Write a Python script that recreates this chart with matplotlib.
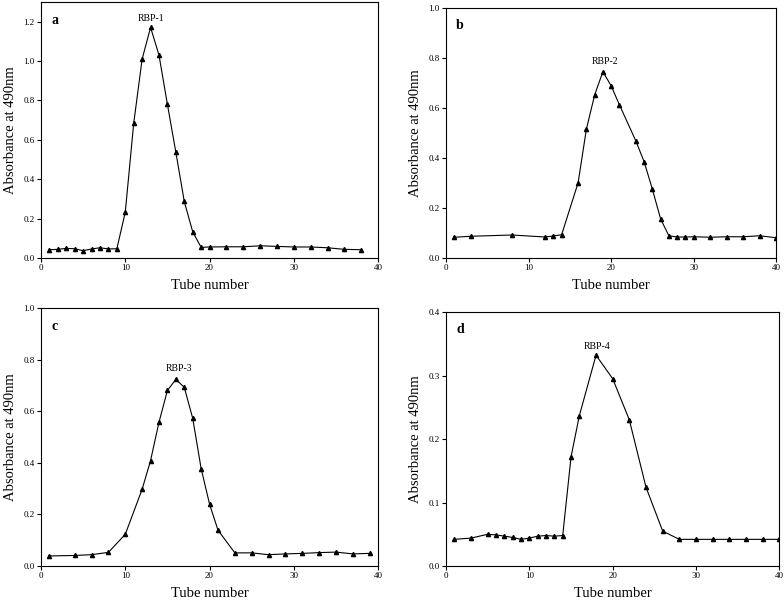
import matplotlib
matplotlib.use("Agg")
import matplotlib.pyplot as plt

plt.rcParams['font.family'] = ['Liberation Serif', 'DejaVu Serif']

# panel a - RBP-1
a_tube = [1, 2, 3, 4, 5, 6, 7, 8, 9, 10, 11, 12, 13, 14, 15, 16, 17, 18, 19,
          20, 22, 24, 26, 28, 30, 32, 34, 36, 38]
a_abs = [0.042, 0.044, 0.049, 0.047, 0.037, 0.046, 0.052, 0.046, 0.047, 0.233,
         0.684, 1.01, 1.171, 1.03, 0.78, 0.537, 0.287, 0.133, 0.054,
         0.056, 0.057, 0.057, 0.062, 0.059, 0.056, 0.056, 0.052, 0.044, 0.042]

# panel b - RBP-2
b_tube = [1, 3, 8, 12, 13, 14, 16, 17, 18, 19, 20, 21, 23, 24, 25, 26, 27, 28,
          29, 30, 32, 34, 36, 38, 40]
b_abs = [0.083, 0.087, 0.092, 0.084, 0.088, 0.093, 0.301, 0.515, 0.652, 0.745,
         0.689, 0.613, 0.468, 0.385, 0.275, 0.156, 0.089, 0.084, 0.084, 0.085,
         0.083, 0.085, 0.085, 0.089, 0.081]

# panel c - RBP-3
c_tube = [1, 4, 6, 8, 10, 12, 13, 14, 15, 16, 17, 18, 19, 20, 21, 23, 25, 27,
          29, 31, 33, 35, 37, 39]
c_abs = [0.039, 0.041, 0.044, 0.053, 0.123, 0.298, 0.409, 0.558, 0.681, 0.724,
         0.693, 0.573, 0.378, 0.240, 0.139, 0.051, 0.051, 0.044, 0.047, 0.049,
         0.052, 0.054, 0.047, 0.049]

# panel d - RBP-4
d_tube = [1, 3, 5, 6, 7, 8, 9, 10, 11, 12, 13, 14, 15, 16, 18, 20, 22, 24, 26,
          28, 30, 32, 34, 36, 38, 40]
d_abs = [0.042, 0.044, 0.050, 0.049, 0.047, 0.045, 0.042, 0.044, 0.047, 0.048,
         0.047, 0.048, 0.172, 0.237, 0.332, 0.295, 0.230, 0.124, 0.055,
         0.042, 0.042, 0.042, 0.042, 0.042, 0.042, 0.042]

panels = [
    # letter, x, y, peak label, label pos, ylim, yticks, axes rect
    ("a", a_tube, a_abs, "RBP-1", (13, 1.215), 1.3, [0, 0.2, 0.4, 0.6, 0.8, 1.0, 1.2],
     [0.0523, 0.5707, 0.430, 0.426]),
    ("b", b_tube, b_abs, "RBP-2", (19.2, 0.785), 1.0, [0, 0.2, 0.4, 0.6, 0.8, 1.0],
     [0.569, 0.5707, 0.421, 0.416]),
    ("c", c_tube, c_abs, "RBP-3", (16.4, 0.765), 1.0, [0, 0.2, 0.4, 0.6, 0.8, 1.0],
     [0.0523, 0.0582, 0.430, 0.429]),
    ("d", d_tube, d_abs, "RBP-4", (18.1, 0.346), 0.4, [0, 0.1, 0.2, 0.3, 0.4],
     [0.569, 0.0582, 0.425, 0.4226]),
]

fig = plt.figure(figsize=(7.84, 6.01), dpi=100)

for letter, x, y, lab, lpos, ymax, yt, rect in panels:
    ax = fig.add_axes(rect)
    ax.plot(x, y, color='black', lw=0.8, marker='^', markersize=3)
    ax.set_xlim(0, 40)
    ax.set_ylim(0, ymax)
    ax.set_xticks([0, 10, 20, 30, 40])
    ax.set_yticks(yt)
    ax.set_yticklabels(["%.1f" % v for v in yt])
    ax.tick_params(direction='out', length=3, width=0.8, labelsize=6.5, pad=1.5)
    for sp in ax.spines.values():
        sp.set_linewidth(0.8)
    ax.set_xlabel("Tube number", fontsize=10.5, labelpad=5)
    ax.set_ylabel("Absorbance at 490nm", fontsize=10.5, labelpad=5)
    ax.text(0.03, 0.955, letter, transform=ax.transAxes, fontsize=10,
            fontweight='bold', va='top', ha='left')
    ax.text(lpos[0], lpos[1], lab, fontsize=7, ha='center', va='center')

fig.savefig("out.png", dpi=100)
